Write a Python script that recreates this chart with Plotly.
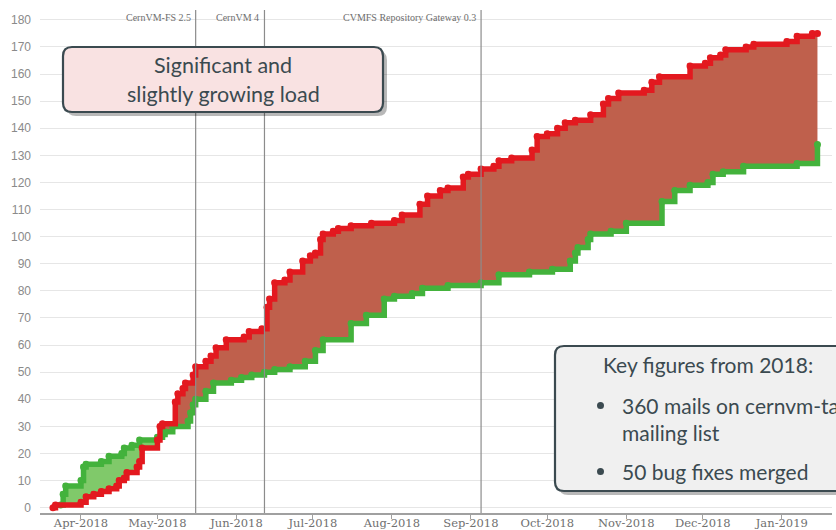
import numpy as np
import pandas as pd
import plotly.graph_objects as go

# ---------------- data ----------------
red_dates = ["2018-03-21", "2018-03-22", "2018-04-01", "2018-04-03", "2018-04-06", "2018-04-09",
             "2018-04-12", "2018-04-15", "2018-04-16", "2018-04-18", "2018-04-19", "2018-04-23",
             "2018-04-24", "2018-04-25", "2018-05-01", "2018-05-02", "2018-05-03", "2018-05-08",
             "2018-05-09", "2018-05-11", "2018-05-12", "2018-05-15", "2018-05-16", "2018-05-20",
             "2018-05-22", "2018-05-24", "2018-05-28", "2018-06-04", "2018-06-06", "2018-06-11",
             "2018-06-13", "2018-06-14", "2018-06-16", "2018-06-20", "2018-06-22", "2018-06-27",
             "2018-06-30", "2018-07-02", "2018-07-04", "2018-07-05", "2018-07-09", "2018-07-11",
             "2018-07-16", "2018-07-24", "2018-08-02", "2018-08-05", "2018-08-12", "2018-08-15",
             "2018-08-20", "2018-08-23", "2018-08-29", "2018-08-31", "2018-09-05", "2018-09-10",
             "2018-09-12", "2018-09-17", "2018-09-25", "2018-09-27", "2018-10-01", "2018-10-05",
             "2018-10-08", "2018-10-12", "2018-10-18", "2018-10-23", "2018-10-25", "2018-10-29",
             "2018-11-08", "2018-11-11", "2018-11-14", "2018-11-26", "2018-12-02", "2018-12-04",
             "2018-12-08", "2018-12-10", "2018-12-18", "2018-12-21", "2019-01-03", "2019-01-07",
             "2019-01-13", "2019-01-15"]
red_values = [0, 1, 2, 4, 5, 6,
              7, 8, 10, 11, 13, 15,
              17, 22, 25, 30, 31, 39,
              42, 44, 46, 49, 52, 54,
              56, 59, 62, 63, 65, 66,
              74, 77, 83, 84, 87, 91,
              93, 94, 99, 101, 102, 103,
              104, 105, 106, 108, 112, 115,
              117, 118, 122, 123, 125, 126,
              128, 129, 132, 137, 138, 140,
              142, 143, 145, 149, 151, 153,
              154, 157, 159, 163, 164, 166,
              167, 169, 170, 171, 172, 174,
              175, 175]

green_dates = ["2018-03-24", "2018-03-25", "2018-03-26", "2018-04-01", "2018-04-02", "2018-04-03",
               "2018-04-09", "2018-04-12", "2018-04-17", "2018-04-18", "2018-04-21", "2018-04-24",
               "2018-05-01", "2018-05-03", "2018-05-04", "2018-05-07", "2018-05-13", "2018-05-14",
               "2018-05-15", "2018-05-16", "2018-05-20", "2018-05-23", "2018-05-30", "2018-06-03",
               "2018-06-07", "2018-06-12", "2018-06-16", "2018-06-22", "2018-06-28", "2018-07-02",
               "2018-07-05", "2018-07-16", "2018-07-22", "2018-07-29", "2018-08-02", "2018-08-09",
               "2018-08-13", "2018-08-23", "2018-09-05", "2018-09-12", "2018-09-24", "2018-10-03",
               "2018-10-10", "2018-10-12", "2018-10-13", "2018-10-17", "2018-10-18", "2018-10-26",
               "2018-11-01", "2018-11-15", "2018-11-20", "2018-11-26", "2018-12-03", "2018-12-05",
               "2018-12-09", "2018-12-17", "2019-01-07", "2019-01-15"]
green_values = [1, 5, 8, 10, 15, 16,
                17, 19, 20, 22, 23, 25,
                26, 27, 28, 30, 32, 35,
                38, 40, 43, 46, 47, 48,
                49, 50, 51, 52, 54, 58,
                62, 68, 71, 77, 78, 79,
                81, 82, 83, 86, 87, 88,
                91, 94, 96, 99, 101, 102,
                105, 113, 117, 119, 120, 123,
                124, 126, 127, 134]

release_dates = ["2018-05-16", "2018-06-12", "2018-09-05"]
release_labels = ["CernVM-FS 2.5", "CernVM 4", "CVMFS Repository Gateway 0.3"]

y_ticks = list(range(0, 181, 10))

box1_lines = ["Significant and", "slightly growing load"]
box2_title = "Key figures from 2018:"
box2_items = ["360 mails on cernvm-talk", "mailing list", "50 bug fixes merged"]

# ---------------- styling ----------------
RED = "#e3191f"
GREEN = "#43b23c"
RED_FILL = "#bf604c"
GREEN_FILL = "#80c96a"
W, H = 836, 530
ML, MR, MT, MB = 40, 4, 10, 17
PW, PH = W - ML - MR, H - MT - MB


def px(x):
    return (x - ML) / PW


def py(y):
    return (H - MB - y) / PH


# step functions evaluated on common dates for the fill
r_s = pd.Series(red_values, index=pd.to_datetime(red_dates), dtype=float)
g_s = pd.Series(green_values, index=pd.to_datetime(green_dates), dtype=float)
union = r_s.index.union(g_s.index)
r_u = r_s.reindex(union).ffill()
g_u = g_s.reindex(union).ffill()
g_u = g_u.fillna(r_u)
lo = np.minimum(r_u.values, g_u.values)

fig = go.Figure()
common = dict(mode="lines", line=dict(width=0, shape="hv"), hoverinfo="skip", showlegend=False)
fig.add_trace(go.Scatter(x=union, y=lo, **common))
fig.add_trace(go.Scatter(x=union, y=r_u.values, fill="tonexty", fillcolor=RED_FILL, **common))
fig.add_trace(go.Scatter(x=union, y=lo, **common))
fig.add_trace(go.Scatter(x=union, y=g_u.values, fill="tonexty", fillcolor=GREEN_FILL, **common))

fig.add_trace(go.Scatter(x=pd.to_datetime(green_dates), y=green_values, mode="lines+markers",
                         line=dict(color=GREEN, width=5.5, shape="hv"),
                         marker=dict(color=GREEN, size=7), showlegend=False))
fig.add_trace(go.Scatter(x=pd.to_datetime(red_dates), y=red_values, mode="lines+markers",
                         line=dict(color=RED, width=5.5, shape="hv"),
                         marker=dict(color=RED, size=7), showlegend=False))

shapes = []
annotations = []
for d, lab in zip(release_dates, release_labels):
    shapes.append(dict(type="line", xref="x", yref="paper", x0=d, x1=d, y0=0, y1=1,
                       line=dict(color="#8c8c8c", width=1.2), layer="above"))
    annotations.append(dict(x=d, y=py(18), xref="x", yref="paper", text=lab, showarrow=False,
                            xanchor="right", yanchor="middle", xshift=-3,
                            font=dict(family="Liberation Serif", size=10, color="#6e6e6e")))


def rrect(x0, y0, x1, y1, r):
    pts = lambda x, y: f"{px(x):.5f},{py(y):.5f}"
    return ("M " + pts(x0 + r, y0) + " L " + pts(x1 - r, y0) + " Q " + pts(x1, y0) + " " + pts(x1, y0 + r)
            + " L " + pts(x1, y1 - r) + " Q " + pts(x1, y1) + " " + pts(x1 - r, y1)
            + " L " + pts(x0 + r, y1) + " Q " + pts(x0, y1) + " " + pts(x0, y1 - r)
            + " L " + pts(x0, y0 + r) + " Q " + pts(x0, y0) + " " + pts(x0 + r, y0) + " Z")


BORDER = "#3b4a50"
TXT = "#3b4a50"
for (x0, y0, x1, y1, fillc) in [(63, 47, 383, 112, "#f9e2e2"), (555, 346, 960, 491, "#f0f0f0")]:
    shapes.append(dict(type="path", xref="paper", yref="paper", path=rrect(x0 + 4, y0 + 4, x1 + 4, y1 + 4, 9),
                       fillcolor="rgba(0,0,0,0.28)", line=dict(width=0), layer="above"))
    shapes.append(dict(type="path", xref="paper", yref="paper", path=rrect(x0, y0, x1, y1, 9),
                       fillcolor=fillc, line=dict(color=BORDER, width=2.2), layer="above"))

FONT = "Lato"
annotations.append(dict(x=px(223), y=py(65), xref="paper", yref="paper", text=box1_lines[0],
                        showarrow=False, xanchor="center", yanchor="middle",
                        font=dict(family=FONT, size=21.5, color=TXT)))
annotations.append(dict(x=px(223), y=py(94), xref="paper", yref="paper", text=box1_lines[1],
                        showarrow=False, xanchor="center", yanchor="middle",
                        font=dict(family=FONT, size=21.5, color=TXT)))
annotations.append(dict(x=px(601), y=py(364), xref="paper", yref="paper", text=box2_title,
                        showarrow=False, xanchor="left", yanchor="middle",
                        font=dict(family=FONT, size=21, color=TXT)))
for txt, yy in zip(box2_items, [405, 432, 471]):
    annotations.append(dict(x=px(620), y=py(yy), xref="paper", yref="paper", text=txt,
                            showarrow=False, xanchor="left", yanchor="middle",
                            font=dict(family=FONT, size=21, color=TXT)))
for yy in [405, 471]:
    shapes.append(dict(type="circle", xref="paper", yref="paper",
                       x0=px(597), x1=px(604), y0=py(yy - 3), y1=py(yy + 4),
                       fillcolor=TXT, line=dict(width=0), layer="above"))

fig.update_layout(
    width=W, height=H,
    margin=dict(l=ML, r=MR, t=MT, b=MB, autoexpand=False),
    paper_bgcolor="white", plot_bgcolor="white",
    shapes=shapes, annotations=annotations,
    showlegend=False,
)
fig.update_xaxes(type="date", range=["2018-03-15 22:00", "2019-01-20 17:00"],
                 tick0="2018-04-01", dtick="M1", tickformat="%b-%Y", automargin=False,
                 showgrid=False, showline=True, linecolor="#a0a0a0", linewidth=1.5,
                 ticks="outside", ticklen=4, tickcolor="#a0a0a0", ticklabelstandoff=-6,
                 tickfont=dict(family="DejaVu Serif", size=11.5, color="#707070"))
fig.update_yaxes(range=[-1.96, 183.65], tickvals=y_ticks, showgrid=True, gridcolor="#e6e6e6",
                 gridwidth=1, zeroline=False, showline=False, ticks="", automargin=False,
                 ticklabelstandoff=8,
                 tickfont=dict(family="Liberation Sans", size=12, color="#8a8a8a"))

fig.write_html("out.html", config={"displayModeBar": False},
               post_script="document.body.style.margin='0';document.body.style.overflow='hidden';")
